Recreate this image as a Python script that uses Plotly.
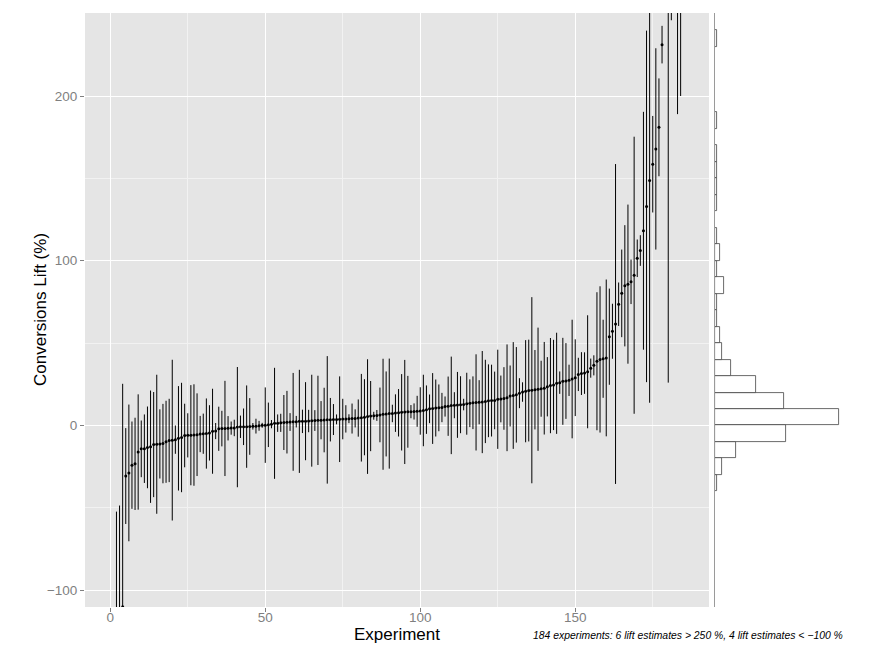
import plotly.graph_objects as go

# Sorted lift estimates (%) per experiment 1..184
estimate = [
    -250, -160, -140, -110, -30.7, -28.8, -24.1, -23.3, -16.1, -14.2,
    -14.1, -13.3, -12.9, -11.6, -11.4, -11.2, -11.0, -9.9, -9.1, -8.9,
    -8.6, -7.8, -7.3, -6.1, -6.0, -5.9, -5.8, -5.6, -5.2, -5.0,
    -4.9, -4.5, -3.5, -3.4, -2.0, -1.9, -1.8, -1.7, -1.6, -1.5,
    -1.0, -0.8, -0.8, -0.7, -0.6, -0.5, -0.4, -0.2, 0.1, 0.2,
    0.4, 0.8, 1.3, 1.4, 1.6, 1.8, 2.0, 2.1, 2.2, 2.3,
    2.5, 2.5, 2.6, 2.7, 2.9, 3.0, 3.1, 3.2, 3.3, 3.4,
    3.5, 3.6, 3.7, 3.8, 3.9, 4.0, 4.1, 4.2, 4.3, 4.5,
    4.7, 5.0, 5.4, 5.7, 5.9, 6.1, 6.4, 6.8, 7.0, 7.2,
    7.3, 7.5, 7.7, 8.0, 8.2, 8.3, 8.4, 8.5, 8.6, 8.8,
    9.1, 9.6, 10.1, 10.3, 10.6, 10.7, 10.9, 11.5, 11.7, 12.2,
    12.3, 12.5, 12.6, 12.7, 13.2, 13.5, 13.8, 14.0, 14.1, 14.2,
    14.6, 15.0, 15.1, 15.2, 15.9, 16.1, 16.4, 16.8, 17.9, 18.2,
    18.6, 19.6, 20.3, 20.8, 21.2, 21.4, 21.7, 22.0, 22.3, 22.6,
    23.5, 24.2, 24.6, 25.6, 26.0, 26.8, 27.0, 27.4, 28.2, 29.0,
    31.0, 31.5, 31.8, 32.6, 34.8, 36.5, 39.0, 40.1, 40.5, 41.0,
    53.9, 57.2, 61.6, 73.6, 80.2, 84.8, 85.8, 87.2, 91.2, 101.5,
    106.2, 118.2, 133.0, 148.7, 158.6, 167.9, 181.0, 231.2, 255.0, 262.0,
    270.0, 285.0, 300.0, 340.0,
]

# Half-width of each interval (%)
half_width = [
    100, 107.7, 91.4, 135.3, 29.1, 41.5, 26.5, 28.0, 35.0, 17.2,
    20.8, 24.8, 34.1, 31.9, 42.2, 21.0, 24.1, 24.9, 25.3, 48.8,
    8.6, 31.7, 33.2, 19.3, 13.4, 30.4, 30.8, 25.1, 11.0, 12.2,
    21.3, 16.8, 25.8, 4.9, 13.4, 10.8, 28.9, 7.4, 4.0, 5.0,
    36.5, 6.8, 11.1, 25.0, 17.2, 2.0, 4.5, 3.0, 1.5, 22.9,
    13.5, 2.5, 33.7, 5.3, 5.5, 16.7, 19.0, 5.4, 29.7, 3.5,
    31.3, 7.1, 23.7, 6.8, 27.9, 6.3, 27.1, 11.6, 19.6, 38.7,
    13.2, 9.4, 3.0, 26.0, 12.3, 8.3, 2.7, 9.1, 5.5, 11.3,
    26.6, 23.1, 34.8, 21.3, 2.4, 3.3, 16.6, 33.7, 25.8, 33.4,
    5.3, 11.4, 14.4, 23.2, 31.6, 21.8, 4.0, 4.9, 9.4, 14.4,
    21.7, 14.7, 8.7, 21.5, 17.3, 14.2, 8.9, 6.1, 18.0, 29.6,
    7.9, 20.0, 17.3, 3.5, 18.8, 14.5, 16.0, 29.2, 13.4, 31.0,
    25.3, 22.1, 21.8, 17.5, 30.1, 14.2, 19.0, 32.4, 18.5, 32.4,
    29.0, 9.1, 5.9, 31.0, 30.9, 56.5, 24.1, 37.4, 17.0, 28.1,
    18.0, 28.9, 27.4, 30.7, 6.8, 26.4, 23.0, 9.5, 36.0, 23.3,
    10.1, 13.0, 12.6, 34.3, 5.8, 6.1, 41.9, 44.4, 23.7, 47.6,
    29.2, 16.7, 97.1, 13.2, 26.6, 36.8, 48.3, 13.5, 84.1, 11.4,
    9.3, 72.2, 106.7, 134.9, 29.3, 61.1, 29.7, 11.4, 3.0, 236.0,
    24.0, 20.0, 111.0, 140.0,
]

experiment = list(range(1, len(estimate) + 1))
x_ticks = [0, 50, 100, 150]
y_ticks = [-100, 0, 100, 200]
y_low, y_high = -100, 250
caption = "184 experiments: 6 lift estimates > 250 %, 4 lift estimates < \u2212100 %"

in_view = [e for e in estimate if y_low <= e <= y_high]

GRAY_TXT = "#7F7F7F"
FONT = "Liberation Sans, Arial, sans-serif"

fig = go.Figure()

fig.add_trace(go.Scatter(
    x=experiment, y=estimate, mode="markers",
    marker=dict(color="black", size=3),
    error_y=dict(type="data", array=half_width, symmetric=True,
                 color="black", thickness=1, width=0),
    xaxis="x", yaxis="y", showlegend=False, hoverinfo="skip",
))

fig.add_trace(go.Histogram(
    y=in_view, ybins=dict(start=-100, end=250, size=10),
    marker=dict(color="white", line=dict(color="#444444", width=0.8)),
    xaxis="x2", yaxis="y2", showlegend=False, hoverinfo="skip",
))

# The page body adds an 8px offset; figure pixels = window pixels - 8
OFF = 8
FW, FH = 878, 641
L, T = 85 - OFF, 13 - OFF
B = FH - (607 - OFF)
W = 760
PH = FH - T - B

def px_x(p):
    return (p - OFF - L) / W

def px_y(p):
    return (FH - B - (p - OFF)) / PH

axis_common = dict(
    showline=False, zeroline=False, ticks="outside", ticklen=4,
    tickcolor=GRAY_TXT, tickwidth=1,
    tickfont=dict(family=FONT, size=13.5, color=GRAY_TXT),
    showgrid=True, gridcolor="white", gridwidth=1.2,
)

fig.update_layout(
    width=FW, height=FH,
    margin=dict(l=L, r=FW - L - W, t=T, b=B),
    paper_bgcolor="white", plot_bgcolor="white",
    bargap=0,
    xaxis=dict(domain=[0, px_x(709)], range=[-8.15, 193.15],
               tickvals=x_ticks, anchor="y", ticklabelstandoff=-6,
               minor=dict(dtick=25, tick0=0, showgrid=True, gridcolor="#F2F2F2",
                          gridwidth=0.6, ticks=""),
               **axis_common),
    yaxis=dict(domain=[0, 1], range=[-110.2, 250.4], tickvals=y_ticks,
               anchor="x",
               minor=dict(dtick=50, tick0=0, showgrid=True, gridcolor="#F2F2F2",
                          gridwidth=0.6, ticks=""),
               **axis_common),
    xaxis2=dict(domain=[px_x(715), 1], range=[0, 56.7], anchor="y2",
                showgrid=False, zeroline=False, showticklabels=False,
                ticks="", showline=False),
    yaxis2=dict(domain=[0, 1], range=[-110.2, 250.4], anchor="x2",
                showgrid=False, zeroline=False, showticklabels=False,
                ticks="", showline=True, linecolor="#9A9A9A", linewidth=1.2),
    shapes=[dict(type="rect", xref="x domain", yref="y domain",
                 x0=0, x1=1, y0=0, y1=1, fillcolor="#E5E5E5",
                 line=dict(width=0), layer="below")],
    annotations=[
        dict(text="Experiment", xref="paper", yref="paper",
             x=px_x(397), y=px_y(634.5), xanchor="center", yanchor="middle",
             showarrow=False, font=dict(family=FONT, size=17, color="black")),
        dict(text="Conversions Lift (%)", xref="paper", yref="paper",
             x=px_x(40), y=px_y(310), xanchor="center", yanchor="middle",
             textangle=-90, showarrow=False,
             font=dict(family=FONT, size=17, color="black")),
        dict(text="<i>" + caption + "</i>", xref="paper", yref="paper",
             x=px_x(845), y=px_y(635), xanchor="right", yanchor="middle",
             showarrow=False, font=dict(family=FONT, size=10.4, color="black")),
    ],
)

fig.write_html("out.html")
